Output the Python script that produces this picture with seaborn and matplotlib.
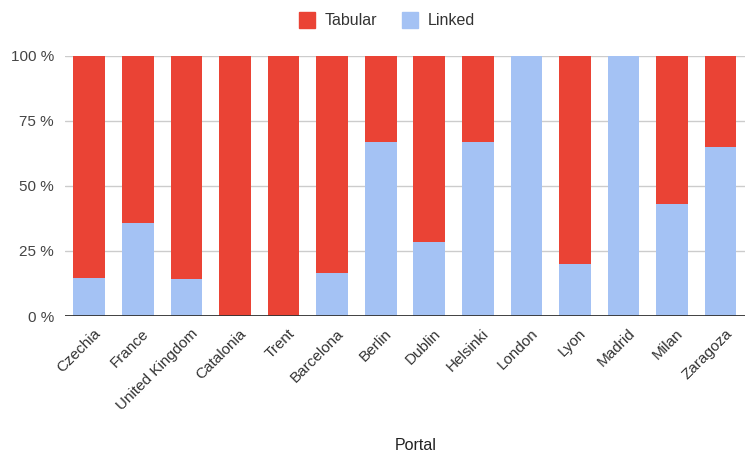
import matplotlib
matplotlib.use("Agg")
import matplotlib.pyplot as plt
from matplotlib.lines import Line2D
from matplotlib.ticker import FixedLocator, FuncFormatter
from matplotlib.transforms import ScaledTranslation
import numpy as np
import pandas as pd
import seaborn as sns

# Share of each portal's datasets published as linked vs tabular data (%)
portals = ["Czechia", "France", "United Kingdom", "Catalonia", "Trent", "Barcelona",
           "Berlin", "Dublin", "Helsinki", "London", "Lyon", "Madrid", "Milan", "Zaragoza"]
linked = [14.7, 35.7, 14.3, 0, 0, 16.7, 66.7, 28.6, 66.7, 100, 20, 100, 42.9, 65]
tabular = [85.3, 64.3, 85.7, 100, 100, 83.3, 33.3, 71.4, 33.3, 0, 80, 0, 57.1, 35]
y_ticks = [0, 25, 50, 75, 100]

RED = "#ea4335"
BLUE = "#a4c2f4"
TEXT = "#444444"

sns.set_style("white")
plt.rcParams["font.family"] = ["Liberation Sans", "DejaVu Sans"]

df = pd.DataFrame({"Portal": portals, "Linked": linked, "Tabular": tabular})
df["Stack top"] = df["Linked"] + df["Tabular"]

fig = plt.figure(figsize=(7.53, 4.55), dpi=100)
ax = fig.add_axes([65 / 753, 1 - 316 / 455, 680 / 753, 260.3 / 455])

# Stacked bars: tabular segment sits above the linked segment
sns.barplot(data=df, x="Portal", y="Stack top", color=RED, saturation=1,
            width=0.65, ax=ax, zorder=2, linewidth=0)
sns.barplot(data=df, x="Portal", y="Linked", color=BLUE, saturation=1,
            width=0.65, ax=ax, zorder=3, linewidth=0)

ax.set_xlim(-0.5, len(portals) - 0.5)
ax.set_ylim(0, 100)
ax.yaxis.set_major_locator(FixedLocator(y_ticks))
ax.yaxis.set_major_formatter(FuncFormatter(lambda v, _: f"{int(v)} %"))
ax.grid(axis="y", color="#cccccc", linewidth=1, zorder=0)
ax.grid(axis="x", visible=False)
ax.axhline(0, color="#333333", linewidth=1.3, zorder=4)
for s in ax.spines.values():
    s.set_visible(False)

ax.tick_params(axis="y", length=0, pad=8, labelsize=11, labelcolor=TEXT)
ax.tick_params(axis="x", length=0, pad=11, labelsize=11, labelcolor="#333333")
shift = ScaledTranslation(9 / 100, 0, fig.dpi_scale_trans)
for lbl in ax.get_xticklabels():
    lbl.set_rotation(45)
    lbl.set_ha("right")
    lbl.set_va("center")
    lbl.set_rotation_mode("anchor")
    lbl.set_transform(lbl.get_transform() + shift)

ax.set_ylabel("")
ax.set_xlabel("Portal", fontsize=11.5, color="#222222")
ax.xaxis.label.set_va("center")
ax.xaxis.set_label_coords((416 - 65) / 680, (316 - 445) / 260.3)

handles = [
    Line2D([], [], marker="s", linestyle="none", markersize=11.5,
           markerfacecolor=RED, markeredgecolor=RED, label="Tabular"),
    Line2D([], [], marker="s", linestyle="none", markersize=11.5,
           markerfacecolor=BLUE, markeredgecolor=BLUE, label="Linked"),
]
leg = fig.legend(handles=handles, loc="center", bbox_to_anchor=(387 / 753, 1 - 20.7 / 455),
                 ncol=2, frameon=False, fontsize=11.5, handlelength=1.0,
                 handletextpad=0.6, columnspacing=1.6)
for t in leg.get_texts():
    t.set_color("#333333")

fig.savefig("out.png", dpi=100)
